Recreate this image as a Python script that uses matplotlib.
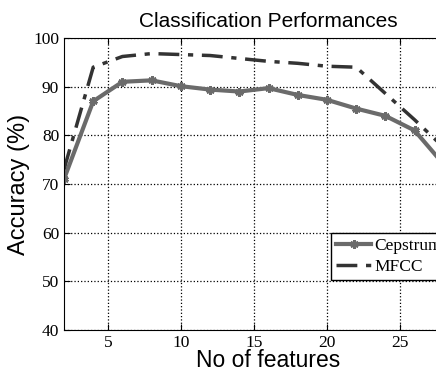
import matplotlib
matplotlib.use('Agg')
import matplotlib.pyplot as plt
import numpy as np

# number of features used for each run
n_features = [2, 4, 6, 8, 10, 12, 14, 16, 18, 20, 22, 24, 26, 28]
# accuracy (%) for each feature set
cepstrum = [71.0, 87.0, 91.0, 91.3, 90.1, 89.4, 89.0, 89.7, 88.3, 87.3, 85.5, 84.0, 81.0, 74.0]
mfcc = [73.0, 94.0, 96.2, 96.8, 96.6, 96.4, 95.8, 95.2, 94.8, 94.2, 94.0, 88.6, 83.2, 77.5]

serif = 'Liberation Serif'
sans = 'Liberation Sans'

fig = plt.figure(figsize=(4.36, 3.72), dpi=100)
# axes run past the right edge of the figure
ax = fig.add_axes([64/436, 1 - 330/372, 409/436, 292/372])

ax.plot(n_features, cepstrum, color='#6b6b6b', lw=3, marker=(6, 2, 0), ms=6,
        mew=2, label='Cepstrum')
ax.plot(n_features, mfcc, color='#333333', lw=2.5, ls='-.', dashes=(6, 2.5, 1.5, 2.5),
        label='MFCC')

ax.set_xlim(2, 30)
ax.set_ylim(40, 100)
ax.set_xticks([5, 10, 15, 20, 25, 30])
ax.set_yticks(np.arange(40, 101, 10))
ax.grid(True, ls=':', color='black', lw=0.9)
ax.tick_params(direction='in', length=4, labelsize=12.5, top=True, right=True)
for lab in ax.get_xticklabels() + ax.get_yticklabels():
    lab.set_fontfamily(serif)

ax.set_title('Classification Performances', fontsize=15, family=sans, pad=8)
ax.set_xlabel('No of features', fontsize=16.5, family=sans, labelpad=-1)
ax.set_ylabel('Accuracy (%)', fontsize=17, family=sans, labelpad=2)

leg = ax.legend(loc='upper left', bbox_to_anchor=((331 - 64)/409, 1 - (233 - 38)/292),
                prop={'family': serif, 'size': 12.5}, frameon=True, fancybox=False,
                edgecolor='black', framealpha=1, borderpad=0.3, labelspacing=0.25,
                handlelength=2.0, handletextpad=0.2, borderaxespad=0)
leg.get_frame().set_linewidth(1)

fig.savefig('out.png', dpi=100)
